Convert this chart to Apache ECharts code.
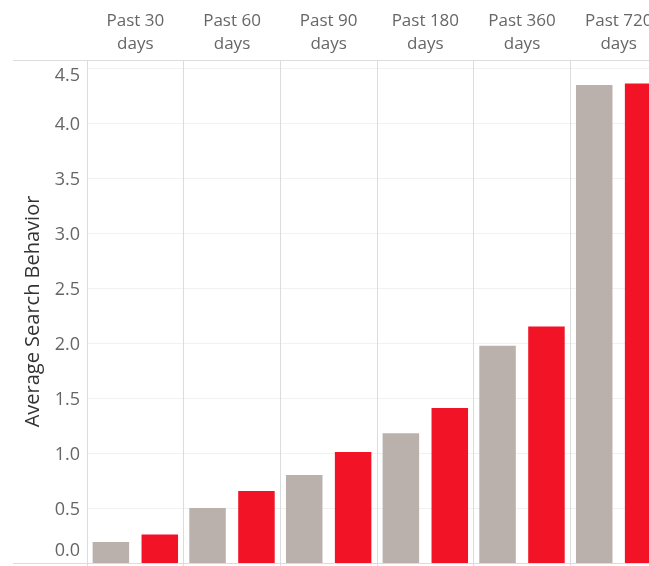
<!DOCTYPE html>
<html>
<head>
<meta charset="utf-8">
<script src="https://cdn.jsdelivr.net/npm/echarts@6/dist/echarts.min.js"></script>
<style>
  html, body { margin: 0; padding: 0; background: #fff; }
  #chart { width: 649px; height: 566px; }
</style>
</head>
<body>
<div id="chart"></div>
<script>
// Time windows shown as column headers
const periods = ['Past 30 days', 'Past 60 days', 'Past 90 days', 'Past 180 days', 'Past 360 days', 'Past 720 days'];
// Average search behavior per window, two groups
const comparisonValues = [0.19, 0.50, 0.80, 1.18, 1.975, 4.345];
const focusValues = [0.26, 0.655, 1.01, 1.41, 2.15, 4.36];
// Value axis ticks
const yTickStep = 0.5;
const yTickBottom = 0;
const yTickTop = 4.5;

const font = '"Open Sans", "Noto Sans", sans-serif';
const chart = echarts.init(document.getElementById('chart'), null, { renderer: 'canvas' });

// Edge tick labels are nudged inside the plot so they do not hang over the frame
function yLabel(v) {
  if (v > yTickTop + 1e-9) return '';
  const txt = v.toFixed(1);
  if (Math.abs(v - yTickTop) < 1e-9) return '{top|' + txt + '}';
  if (Math.abs(v - yTickBottom) < 1e-9) return '{bottom|' + txt + '}';
  return '{mid|' + txt + '}';
}

const labelStyle = { fontFamily: font, fontSize: 18, color: '#666666' };
const frameColor = '#dcdcdc';

chart.setOption({
  animation: false,
  backgroundColor: '#ffffff',
  grid: { left: 87, top: 60, width: 580, height: 503, containLabel: false, outerBoundsMode: 'none' },
  xAxis: [
    {
      type: 'category',
      position: 'top',
      data: periods,
      axisLine: { show: true, lineStyle: { color: frameColor, width: 1 } },
      axisTick: { show: true, interval: 0, length: 53, lineStyle: { color: frameColor, width: 1 } },
      splitLine: { show: true, interval: 0, lineStyle: { color: frameColor, width: 1 } },
      axisLabel: {
        interval: 0,
        margin: 4,
        fontFamily: font,
        fontSize: 17,
        lineHeight: 23,
        color: '#666666',
        formatter: v => v.replace(' days', '\ndays')
      }
    },
    {
      // short stubs of the column dividers below the baseline
      type: 'category',
      position: 'bottom',
      data: periods,
      axisLine: { show: false },
      axisTick: { show: true, interval: 0, length: 3, lineStyle: { color: frameColor, width: 1 } },
      axisLabel: { show: false },
      splitLine: { show: false }
    }
  ],
  yAxis: {
    type: 'value',
    min: 0,
    max: 4.573,
    interval: yTickStep,
    name: 'Average Search Behavior',
    nameLocation: 'middle',
    nameRotate: 90,
    nameGap: 44,
    nameTextStyle: { fontFamily: font, fontSize: 20, color: '#333333' },
    axisLine: { show: false },
    axisTick: { show: false },
    axisLabel: {
      margin: 7,
      ...labelStyle,
      formatter: yLabel,
      rich: {
        top: { ...labelStyle, padding: [16, 0, 0, 0] },
        bottom: { ...labelStyle, padding: [0, 0, 24, 0] },
        mid: { ...labelStyle, padding: [4, 0, 0, 0] }
      }
    },
    splitLine: { show: true, lineStyle: { color: '#f1f1f1', width: 1 } }
  },
  graphic: [
    { type: 'line', shape: { x1: 13, y1: 60.5, x2: 649, y2: 60.5 }, style: { stroke: frameColor, lineWidth: 1 }, z: 10 },
    { type: 'line', shape: { x1: 13, y1: 563.5, x2: 649, y2: 563.5 }, style: { stroke: frameColor, lineWidth: 1 }, z: 10 }
  ],
  series: [
    {
      name: 'Comparison',
      type: 'bar',
      xAxisIndex: 0,
      data: comparisonValues,
      barWidth: 36.5,
      barGap: '34%',
      itemStyle: { color: '#bab0ac' }
    },
    {
      name: 'Focus',
      type: 'bar',
      xAxisIndex: 0,
      data: focusValues,
      barWidth: 36.5,
      barGap: '34%',
      itemStyle: { color: '#f21326' }
    }
  ]
});
</script>
</body>
</html>
